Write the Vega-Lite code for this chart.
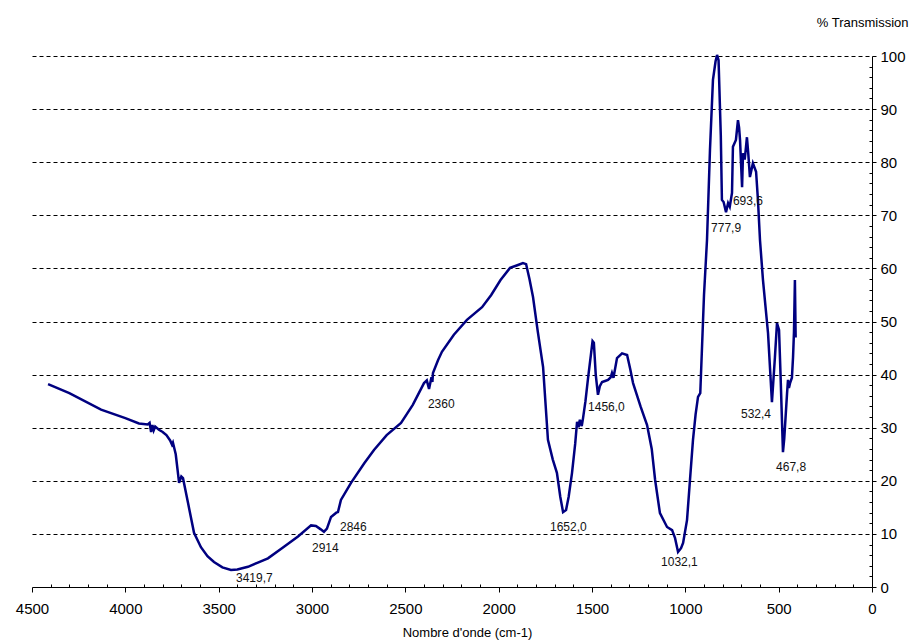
{
  "$schema": "https://vega.github.io/schema/vega-lite/v6.json",
  "width": 840,
  "height": 531,
  "autosize": "none",
  "padding": {"left": 32, "top": 56, "right": 37, "bottom": 53},
  "background": "white",
  "config": {"view": {"stroke": null}, "font": "Liberation Sans"},
  "datasets": {
    "spectrum": [
      {"wn": 4414, "t": 38.2}, {"wn": 4300, "t": 36.5}, {"wn": 4130, "t": 33.4}, {"wn": 4000, "t": 31.8},
      {"wn": 3927, "t": 30.8}, {"wn": 3880, "t": 30.6}, {"wn": 3870, "t": 30.9}, {"wn": 3862, "t": 29.2},
      {"wn": 3855, "t": 30.5}, {"wn": 3848, "t": 29.5}, {"wn": 3840, "t": 30.2}, {"wn": 3820, "t": 29.6},
      {"wn": 3800, "t": 29.2}, {"wn": 3780, "t": 28.6}, {"wn": 3760, "t": 27.6}, {"wn": 3750, "t": 26.8},
      {"wn": 3745, "t": 27.2}, {"wn": 3730, "t": 25.0}, {"wn": 3720, "t": 22.0}, {"wn": 3712, "t": 19.6},
      {"wn": 3700, "t": 20.8}, {"wn": 3691, "t": 20.5}, {"wn": 3664, "t": 15.8}, {"wn": 3632, "t": 10.2},
      {"wn": 3595, "t": 7.5}, {"wn": 3560, "t": 5.8}, {"wn": 3525, "t": 4.7}, {"wn": 3480, "t": 3.7},
      {"wn": 3434, "t": 3.2}, {"wn": 3400, "t": 3.3}, {"wn": 3343, "t": 3.8}, {"wn": 3290, "t": 4.6},
      {"wn": 3236, "t": 5.4}, {"wn": 3150, "t": 7.6}, {"wn": 3075, "t": 9.5}, {"wn": 3005, "t": 11.6},
      {"wn": 2979, "t": 11.5}, {"wn": 2955, "t": 10.9}, {"wn": 2936, "t": 10.4}, {"wn": 2920, "t": 11.0},
      {"wn": 2898, "t": 13.2}, {"wn": 2870, "t": 14.0}, {"wn": 2861, "t": 14.1}, {"wn": 2845, "t": 16.4},
      {"wn": 2791, "t": 19.6}, {"wn": 2720, "t": 23.3}, {"wn": 2668, "t": 25.8}, {"wn": 2600, "t": 28.6},
      {"wn": 2523, "t": 30.9}, {"wn": 2460, "t": 34.3}, {"wn": 2400, "t": 38.4}, {"wn": 2385, "t": 38.9},
      {"wn": 2373, "t": 37.3}, {"wn": 2360, "t": 39.5}, {"wn": 2355, "t": 38.6}, {"wn": 2352, "t": 40.3},
      {"wn": 2325, "t": 42.7}, {"wn": 2304, "t": 44.3}, {"wn": 2240, "t": 47.5}, {"wn": 2170, "t": 50.3},
      {"wn": 2089, "t": 52.7}, {"wn": 2040, "t": 55.0}, {"wn": 1990, "t": 57.8}, {"wn": 1939, "t": 60.1},
      {"wn": 1900, "t": 60.6}, {"wn": 1870, "t": 61.0}, {"wn": 1853, "t": 60.8}, {"wn": 1835, "t": 58.0},
      {"wn": 1816, "t": 54.6}, {"wn": 1790, "t": 48.0}, {"wn": 1762, "t": 41.4}, {"wn": 1736, "t": 27.7},
      {"wn": 1710, "t": 24.0}, {"wn": 1688, "t": 21.5}, {"wn": 1670, "t": 17.0}, {"wn": 1655, "t": 14.1},
      {"wn": 1639, "t": 14.5}, {"wn": 1625, "t": 17.0}, {"wn": 1607, "t": 21.5}, {"wn": 1590, "t": 27.0},
      {"wn": 1580, "t": 31.1}, {"wn": 1572, "t": 30.1}, {"wn": 1565, "t": 31.5}, {"wn": 1555, "t": 30.3},
      {"wn": 1548, "t": 31.8}, {"wn": 1535, "t": 35.0}, {"wn": 1521, "t": 39.4}, {"wn": 1505, "t": 44.0},
      {"wn": 1497, "t": 46.3}, {"wn": 1490, "t": 46.0}, {"wn": 1480, "t": 40.0}, {"wn": 1468, "t": 36.2},
      {"wn": 1458, "t": 37.8}, {"wn": 1446, "t": 38.6}, {"wn": 1430, "t": 38.8}, {"wn": 1414, "t": 39.0},
      {"wn": 1400, "t": 39.5}, {"wn": 1393, "t": 40.3}, {"wn": 1385, "t": 39.4}, {"wn": 1366, "t": 43.1},
      {"wn": 1339, "t": 44.0}, {"wn": 1312, "t": 43.7}, {"wn": 1295, "t": 41.0}, {"wn": 1280, "t": 38.4},
      {"wn": 1240, "t": 34.0}, {"wn": 1205, "t": 30.5}, {"wn": 1180, "t": 26.0}, {"wn": 1162, "t": 20.2},
      {"wn": 1136, "t": 13.9}, {"wn": 1098, "t": 11.3}, {"wn": 1071, "t": 10.7}, {"wn": 1055, "t": 9.2},
      {"wn": 1039, "t": 6.6}, {"wn": 1023, "t": 7.3}, {"wn": 1012, "t": 8.3}, {"wn": 991, "t": 12.6},
      {"wn": 975, "t": 20.2}, {"wn": 959, "t": 27.7}, {"wn": 945, "t": 32.5}, {"wn": 932, "t": 35.8},
      {"wn": 920, "t": 36.5}, {"wn": 900, "t": 55.0}, {"wn": 884, "t": 65.3}, {"wn": 868, "t": 82.3},
      {"wn": 852, "t": 95.5}, {"wn": 838, "t": 99.0}, {"wn": 830, "t": 100.2}, {"wn": 822, "t": 99.2},
      {"wn": 810, "t": 85.0}, {"wn": 804, "t": 72.9}, {"wn": 795, "t": 72.5}, {"wn": 782, "t": 70.6},
      {"wn": 771, "t": 72.3}, {"wn": 762, "t": 71.6}, {"wn": 750, "t": 74.2}, {"wn": 745, "t": 82.9},
      {"wn": 729, "t": 84.2}, {"wn": 718, "t": 87.9}, {"wn": 712, "t": 86.5}, {"wn": 707, "t": 84.2},
      {"wn": 696, "t": 75.3}, {"wn": 691, "t": 81.7}, {"wn": 682, "t": 80.5}, {"wn": 675, "t": 82.9},
      {"wn": 670, "t": 84.7}, {"wn": 663, "t": 81.7}, {"wn": 654, "t": 77.2}, {"wn": 638, "t": 79.8},
      {"wn": 621, "t": 78.2}, {"wn": 611, "t": 72.9}, {"wn": 600, "t": 65.3}, {"wn": 584, "t": 57.8},
      {"wn": 557, "t": 47.8}, {"wn": 536, "t": 34.8}, {"wn": 520, "t": 43.3}, {"wn": 509, "t": 49.7},
      {"wn": 498, "t": 48.4}, {"wn": 490, "t": 40.0}, {"wn": 477, "t": 25.4}, {"wn": 470, "t": 28.0},
      {"wn": 455, "t": 36.5}, {"wn": 450, "t": 39.0}, {"wn": 445, "t": 37.5}, {"wn": 439, "t": 38.4},
      {"wn": 429, "t": 39.4}, {"wn": 423, "t": 43.3}, {"wn": 418, "t": 48.0}, {"wn": 413, "t": 57.8},
      {"wn": 409, "t": 47.0}
    ],
    "labels": [
      {"wn": 3407, "t": 1.7, "label": "3419,7"},
      {"wn": 3000, "t": 7.3, "label": "2914"},
      {"wn": 2850, "t": 11.3, "label": "2846"},
      {"wn": 2379, "t": 34.5, "label": "2360"},
      {"wn": 1725, "t": 11.3, "label": "1652,0"},
      {"wn": 1521, "t": 33.9, "label": "1456,0"},
      {"wn": 1130, "t": 4.7, "label": "1032,1"},
      {"wn": 862, "t": 67.6, "label": "777,9"},
      {"wn": 745, "t": 72.7, "label": "693,6"},
      {"wn": 702, "t": 32.6, "label": "532,4"},
      {"wn": 514, "t": 22.6, "label": "467,8"}
    ]
  },
  "encoding": {
    "x": {
      "field": "wn", "type": "quantitative",
      "scale": {"domain": [0, 4500], "reverse": true, "nice": false, "zero": false},
      "axis": {
        "title": "Nombre d'onde (cm-1)",
        "titleFont": "Liberation Sans", "titleFontSize": 13, "titleFontWeight": "normal", "titleColor": "#000",
        "titleX": 435, "titleY": 45, "titleAlign": "center", "titleBaseline": "middle",
        "values": [0,100,200,300,400,500,600,700,800,900,1000,1100,1200,1300,1400,1500,1600,1700,1800,1900,2000,2100,2200,2300,2400,2500,2600,2700,2800,2900,3000,3100,3200,3300,3400,3500,3600,3700,3800,3900,4000,4100,4200,4300,4400,4500],
        "labelExpr": "datum.value % 500 === 0 ? format(datum.value, 'd') : ''",
        "labelOverlap": false, "labelFlush": false, "labelBound": false,
        "labelFont": "Liberation Sans", "labelFontSize": 15, "labelColor": "#000",
        "labelPadding": 9,
        "tickSize": {"condition": {"test": "datum.value % 500 === 0", "value": 5}, "value": -3},
        "tickColor": "#000", "tickWidth": 1,
        "domainColor": "#000", "domainWidth": 1,
        "grid": false
      }
    },
    "y": {
      "field": "t", "type": "quantitative",
      "scale": {"domain": [0, 100], "nice": false},
      "axis": {
        "orient": "right",
        "title": "% Transmission",
        "titleFont": "Liberation Sans", "titleFontSize": 13, "titleFontWeight": "normal", "titleColor": "#000",
        "titleAngle": 0, "titleX": 36, "titleY": -34, "titleAlign": "right", "titleBaseline": "middle",
        "values": [0,2,4,6,8,10,12,14,16,18,20,22,24,26,28,30,32,34,36,38,40,42,44,46,48,50,52,54,56,58,60,62,64,66,68,70,72,74,76,78,80,82,84,86,88,90,92,94,96,98,100],
        "labelExpr": "datum.value % 10 === 0 ? format(datum.value, 'd') : ''",
        "labelOverlap": false, "labelFlush": false, "labelBound": false,
        "labelFont": "Liberation Sans", "labelFontSize": 15, "labelColor": "#000",
        "labelPadding": 4,
        "tickSize": {"condition": {"test": "datum.value % 10 === 0", "value": 4}, "value": -3},
        "tickColor": "#000", "tickWidth": 1,
        "domainColor": "#000", "domainWidth": 1,
        "grid": true, "gridColor": "#000", "gridDash": [4, 3], "gridWidth": 1,
        "gridOpacity": {"condition": {"test": "datum.value % 10 === 0 && datum.value > 0", "value": 1}, "value": 0}
      }
    }
  },
  "layer": [
    {
      "data": {"name": "spectrum"},
      "mark": {"type": "line", "color": "#000080", "strokeWidth": 2.5, "interpolate": "linear"}
    },
    {
      "data": {"name": "labels"},
      "mark": {"type": "text", "align": "left", "baseline": "middle", "font": "Liberation Sans", "fontSize": 12, "color": "#111"},
      "encoding": {
        "text": {"field": "label", "type": "nominal"}
      }
    }
  ]
}
